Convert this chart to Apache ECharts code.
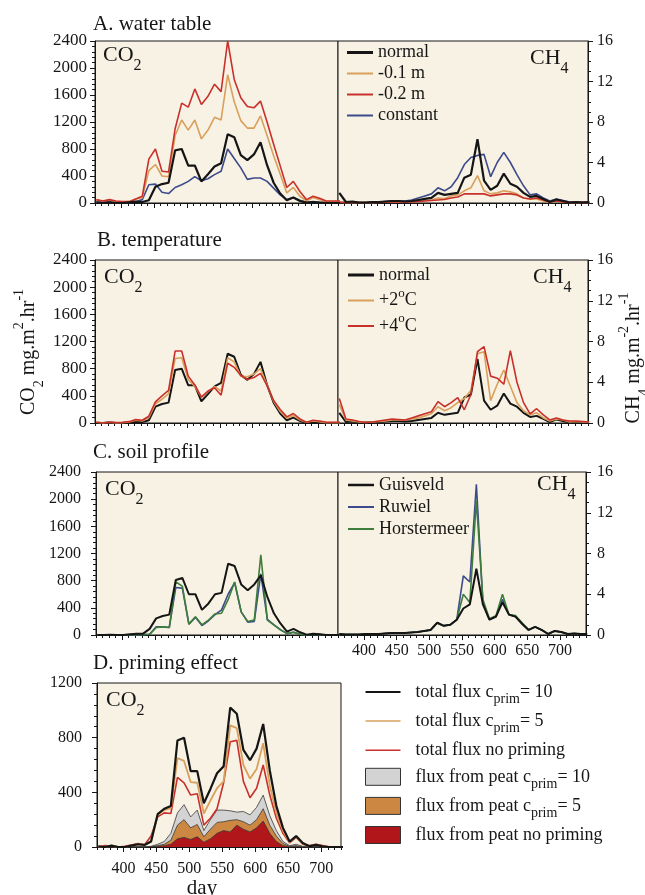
<!DOCTYPE html>
<html>
<head>
    <meta charset="utf-8">
    <script type="text/javascript" src="https://cdn.jsdelivr.net/npm/echarts@6/dist/echarts.min.js"></script>
    <title>CO2 and CH4 fluxes</title>
    <style>html, body { margin: 0; padding: 0; background: #fff; }</style>
</head>
<body>
    <div id="container" style="width:645px;height:895px;"></div>
    <script type="text/javascript">
    // sample days (every 10 days)
    var days = [362, 372, 382, 392, 402, 412, 422, 432, 442, 452, 462, 472, 482, 492, 502, 512, 522, 532, 542, 552,
                562, 572, 582, 592, 602, 612, 622, 632, 642, 652, 662, 672, 682, 692, 702, 712, 722, 732, 742];
    var tickDays = [400, 450, 500, 550, 600, 650, 700];

    // A. water table
    var co2Normal = [5, 0, 10, 0, 0, 10, 20, 15, 40, 240, 280, 300, 780, 800, 555, 555, 320, 425, 540, 590,
                     1020, 975, 710, 635, 720, 900, 560, 300, 140, 40, 80, 30, 5, 15, 5, 0, 0, 0, 0];
    var co2Minus01 = [40, 30, 40, 20, 15, 20, 60, 80, 480, 570, 400, 390, 1000, 1230, 1080, 1230, 950, 1080, 1270, 1230,
                      1900, 1500, 1220, 1110, 1110, 1290, 1000, 700, 430, 150, 230, 100, 30, 80, 50, 20, 20, 20, 20];
    var co2Minus02 = [50, 30, 50, 30, 20, 20, 60, 100, 650, 800, 470, 460, 1100, 1480, 1420, 1690, 1460, 1580, 1760, 1650,
                      2400, 1830, 1560, 1430, 1410, 1510, 1200, 870, 550, 230, 320, 170, 50, 100, 70, 30, 30, 30, 30];
    var co2Constant = [20, 10, 20, 10, 5, 5, 20, 50, 270, 280, 160, 140, 230, 270, 320, 390, 330, 360, 420, 470,
                       800, 660, 520, 350, 370, 370, 320, 220, 120, 50, 80, 40, 10, 20, 10, 10, 5, 5, 5];
    var ch4Normal = [1.0, 0.1, 0.15, 0.05, 0.05, 0.1, 0.1, 0.15, 0.2, 0.2, 0.15, 0.2, 0.3, 0.4, 0.5, 1.0, 0.8, 0.9, 1.0, 2.5,
                     2.8, 6.3, 2.2, 1.3, 1.7, 2.9, 1.9, 1.6, 1.0, 0.6, 0.7, 0.4, 0.1, 0.35, 0.2, 0.05, 0.1, 0.05, 0.1];
    var ch4Minus01 = [0.1, 0.05, 0.05, 0.05, 0.05, 0.05, 0.1, 0.1, 0.1, 0.1, 0.1, 0.15, 0.2, 0.25, 0.3, 0.5, 0.45, 0.7, 0.8, 1.2,
                      1.5, 2.7, 1.2, 0.9, 1.0, 1.2, 1.1, 0.9, 0.5, 0.4, 0.4, 0.2, 0.05, 0.2, 0.1, 0.05, 0.05, 0.05, 0.05];
    var ch4Minus02 = [0.05, 0.05, 0.05, 0.05, 0.05, 0.05, 0.05, 0.1, 0.1, 0.1, 0.1, 0.1, 0.15, 0.2, 0.25, 0.3, 0.35, 0.5, 0.6, 0.9,
                      0.9, 0.9, 0.9, 0.7, 0.8, 0.9, 0.9, 0.8, 0.5, 0.4, 0.5, 0.3, 0.1, 0.2, 0.1, 0.05, 0.05, 0.05, 0.05];
    var ch4Constant = [0.1, 0.05, 0.1, 0.05, 0.05, 0.1, 0.1, 0.15, 0.2, 0.2, 0.2, 0.3, 0.5, 0.7, 0.9, 1.5, 1.2, 1.6, 2.5, 3.8,
                       4.5, 4.7, 4.8, 2.6, 4.0, 5.0, 4.0, 2.8, 1.7, 0.8, 0.9, 0.5, 0.2, 0.4, 0.25, 0.1, 0.1, 0.1, 0.1];

    // B. temperature
    var co2Plus2 = [10, 0, 10, 0, 5, 15, 40, 30, 80, 280, 350, 430, 950, 960, 640, 540, 380, 460, 540, 470,
                    960, 900, 690, 680, 720, 800, 560, 320, 170, 70, 110, 45, 10, 30, 20, 5, 5, 5, 5];
    var co2Plus4 = [10, 0, 10, 5, 10, 20, 50, 40, 100, 310, 400, 480, 1060, 1060, 690, 560, 380, 470, 520, 410,
                    880, 820, 700, 640, 670, 730, 550, 330, 200, 90, 140, 60, 10, 40, 30, 10, 10, 10, 10];
    var ch4Plus2 = [1.8, 0.3, 0.2, 0.1, 0.05, 0.1, 0.15, 0.2, 0.3, 0.3, 0.3, 0.4, 0.5, 0.7, 0.9, 1.6, 1.2, 1.5, 2.0, 2.4,
                    3.2, 6.8, 7.0, 2.2, 3.8, 5.2, 3.6, 2.0, 1.2, 0.8, 1.0, 0.5, 0.2, 0.4, 0.3, 0.1, 0.15, 0.1, 0.1];
    var ch4Plus4 = [2.4, 0.4, 0.3, 0.15, 0.05, 0.1, 0.2, 0.3, 0.4, 0.35, 0.3, 0.5, 0.7, 0.9, 1.1, 2.1, 1.6, 2.0, 2.5, 1.3,
                    2.8, 7.0, 7.5, 4.6, 4.4, 3.8, 7.1, 4.0, 2.0, 0.9, 1.4, 0.8, 0.3, 0.5, 0.3, 0.2, 0.2, 0.15, 0.1];

    // C. soil profile
    var co2Guisveld = [0, 0, 5, 0, 0, 10, 20, 20, 90, 245, 280, 300, 810, 840, 600, 600, 370, 465, 600, 620,
                       1050, 1015, 745, 660, 745, 880, 560, 320, 170, 50, 90, 40, 5, 20, 10, 0, 0, 0, 0];
    var co2Ruwiel = [0, 0, 0, 0, 0, 0, 0, 5, 10, 120, 120, 110, 700, 690, 160, 260, 140, 210, 300, 370,
                     600, 770, 340, 190, 200, 900, 230, 150, 80, 20, 40, 10, 0, 10, 5, 0, 0, 0, 0];
    var co2Horstermeer = [0, 0, 0, 0, 0, 0, 0, 5, 10, 110, 120, 110, 780, 720, 160, 270, 150, 220, 310, 320,
                          520, 780, 340, 200, 220, 1180, 220, 150, 75, 20, 40, 10, 0, 10, 5, 0, 0, 0, 0];
    var ch4Guisveld = [0.1, 0.05, 0.05, 0.05, 0.1, 0.1, 0.1, 0.15, 0.2, 0.2, 0.2, 0.25, 0.3, 0.4, 0.5, 1.2, 0.9, 1.0, 1.5, 2.6,
                       3.0, 6.5, 3.0, 1.5, 1.8, 3.2, 2.0, 1.8, 1.1, 0.5, 0.8, 0.5, 0.1, 0.4, 0.3, 0.1, 0.15, 0.1, 0.1];
    var ch4Ruwiel = [0.1, 0.05, 0.05, 0.05, 0.1, 0.1, 0.1, 0.15, 0.2, 0.2, 0.2, 0.25, 0.3, 0.4, 0.5, 1.2, 0.9, 1.0, 1.5, 5.8,
                     5.2, 14.8, 3.2, 1.5, 1.8, 3.5, 2.0, 1.8, 1.1, 0.5, 0.8, 0.5, 0.1, 0.4, 0.3, 0.1, 0.15, 0.1, 0.1];
    var ch4Horstermeer = [0.1, 0.05, 0.05, 0.05, 0.1, 0.1, 0.1, 0.15, 0.2, 0.2, 0.2, 0.25, 0.3, 0.4, 0.5, 1.2, 0.9, 1.0, 1.5, 4.0,
                          3.2, 13.2, 3.5, 1.6, 1.9, 4.0, 2.0, 1.9, 1.2, 0.5, 0.8, 0.5, 0.1, 0.4, 0.3, 0.1, 0.15, 0.1, 0.1];

    // D. priming effect (total flux c=10 is the normal run)
    var totalPrim5 = [5, 0, 10, 0, 0, 10, 20, 15, 40, 235, 270, 285, 650, 630, 475, 470, 245, 340, 430, 480,
                      890, 870, 600, 500, 570, 760, 450, 250, 120, 35, 75, 25, 5, 15, 5, 0, 0, 0, 0];
    var totalNoPrim = [0, 10, 5, 0, 5, 15, 25, 15, 80, 220, 250, 245, 510, 470, 380, 390, 160, 210, 280, 470,
                       770, 780, 480, 360, 430, 600, 380, 210, 100, 30, 70, 20, 10, 20, 10, 0, 0, 0, 0];
    var peatPrim10 = [0, 0, 0, 0, 0, 0, 0, 0, 5, 20, 40, 100, 250, 310, 220, 270, 120, 200, 270, 270,
                      265, 255, 260, 235, 290, 380, 230, 120, 40, 10, 20, 5, 0, 0, 0, 0, 0, 0, 0];
    var peatPrim5 = [0, 0, 0, 0, 0, 0, 0, 0, 3, 10, 20, 50, 160, 200, 140, 165, 75, 130, 180, 185,
                     195, 200, 185, 160, 200, 280, 160, 80, 25, 5, 10, 0, 0, 0, 0, 0, 0, 0, 0];
    var peatNoPrim = [0, 0, 0, 0, 0, 0, 0, 0, 2, 5, 10, 20, 60, 70, 55, 75, 35, 60, 100, 120,
                      110, 160, 130, 110, 140, 190, 100, 40, 10, 2, 5, 0, 0, 0, 0, 0, 0, 0, 0];

    var FONT = 'Liberation Serif';
    var INK = '#161616';
    var PLOT_BG = '#f7f2e3';
    var C_BLACK = '#151515', C_TAN = '#d9a05c', C_RED = '#c9302c', C_BLUE = '#3d4a8c', C_GREEN = '#3e7d3c';
    var F_GREY = '#d3d3d3', F_ORANGE = '#cc8842', F_RED = '#b0161a';

    var myChart = echarts.init(document.getElementById('container'));

    // 0/1 = A co2/ch4, 2/3 = B, 4/5 = C, 6 = D
    var grids = [
        { left: 95, top: 41, width: 243, height: 162 },
        { left: 338, top: 41, width: 250, height: 162 },
        { left: 95, top: 260, width: 243, height: 163 },
        { left: 338, top: 260, width: 250, height: 163 },
        { left: 96, top: 472, width: 242, height: 163 },
        { left: 338, top: 472, width: 248, height: 163 },
        { left: 97, top: 683, width: 244, height: 164 }
    ];
    grids.forEach(function (g) {
        g.show = true;
        g.backgroundColor = PLOT_BG;
        g.borderColor = INK;
        g.borderWidth = 1;
        g.containLabel = false;
        g.outerBoundsMode = 'none';
    });

    function xAxes(g, max, showLabels, margin) {
        return [{
            gridIndex: g, type: 'value', min: 360, max: max, interval: 10,
            axisLine: { show: true, onZero: false, lineStyle: { color: INK, width: 1 } },
            axisTick: { show: true, inside: false, length: 3, lineStyle: { color: INK, width: 1 } },
            axisLabel: {
                show: showLabels, margin: margin, fontFamily: FONT, fontSize: 16, color: INK,
                formatter: function (v) { return tickDays.indexOf(v) >= 0 ? String(v) : ''; }
            },
            splitLine: { show: false }
        }, {
            gridIndex: g, type: 'value', min: 360, max: max, position: 'bottom',
            axisLine: { show: false },
            axisTick: { show: true, length: 5, customValues: tickDays, lineStyle: { color: INK, width: 1 } },
            axisLabel: { show: false },
            splitLine: { show: false }
        }];
    }

    function yAxis(g, max, interval, minorSplit, pos, fontSize, margin) {
        return {
            gridIndex: g, type: 'value', min: 0, max: max, interval: interval, position: pos,
            axisLine: { show: true, lineStyle: { color: INK, width: 1 } },
            axisTick: { show: true, inside: false, length: 5, lineStyle: { color: INK, width: 1 } },
            minorTick: { show: true, splitNumber: minorSplit, length: 3, lineStyle: { color: INK, width: 1 } },
            axisLabel: {
                show: true, margin: margin, fontFamily: FONT, fontSize: fontSize, color: INK,
                formatter: function (v) { return String(v); }
            },
            splitLine: { show: false },
            minorSplitLine: { show: false }
        };
    }

    var xAxis = [].concat(
        xAxes(0, 730, false, 8), xAxes(1, 740, false, 8),
        xAxes(2, 730, false, 8), xAxes(3, 740, false, 8),
        xAxes(4, 730, false, 8), xAxes(5, 740, true, 8),
        xAxes(6, 730, true, 14)
    );
    // day label under panel D
    xAxis[12].name = 'day';
    xAxis[12].nameLocation = 'middle';
    xAxis[12].nameGap = 28;
    xAxis[12].nameTextStyle = { fontFamily: FONT, fontSize: 21, color: INK, padding: [0, 34, 0, 0] };

    var nameRich = {
        m: { fontFamily: FONT, fontSize: 20, lineHeight: 30, color: INK },
        s: { fontFamily: FONT, fontSize: 14, lineHeight: 8, height: 10, verticalAlign: 'bottom', color: INK },
        p: { fontFamily: FONT, fontSize: 14, lineHeight: 8, height: 10, verticalAlign: 'top', color: INK }
    };

    var yAxes = [
        yAxis(0, 2400, 400, 5, 'left', 17, 8),
        yAxis(1, 16, 4, 4, 'right', 16, 9),
        yAxis(2, 2400, 400, 5, 'left', 17, 8),
        yAxis(3, 16, 4, 4, 'right', 16, 9),
        yAxis(4, 2400, 400, 5, 'left', 16, 15),
        yAxis(5, 16, 4, 4, 'right', 16, 11),
        yAxis(6, 1200, 400, 5, 'left', 16, 15)
    ];
    yAxes[2].name = '{m|CO}{s|2}{m| mg.m}{p|2}{m|.hr}{p|-1}';
    yAxes[2].nameLocation = 'middle';
    yAxes[2].nameRotate = 90;
    yAxes[2].nameGap = 51;
    yAxes[2].nameTextStyle = { fontFamily: FONT, fontSize: 20, color: INK, rich: nameRich, padding: [0, 21, 0, 0] };
    yAxes[3].name = '{m|CH}{s|4}{m| mg.m}{p|-2}{m|.hr}{p|-1}';
    yAxes[3].nameLocation = 'middle';
    yAxes[3].nameRotate = 90;
    yAxes[3].nameGap = 26;
    yAxes[3].nameTextStyle = { fontFamily: FONT, fontSize: 20, color: INK, rich: nameRich, padding: [0, 33, 0, 0] };

    function pts(vals) {
        return days.map(function (d, i) { return [d, vals[i]]; });
    }

    function line(name, vals, color, width, g, z) {
        return {
            name: name, type: 'line', xAxisIndex: 2 * g, yAxisIndex: g, data: pts(vals),
            symbol: 'none', showSymbol: false, clip: true, z: z,
            lineStyle: { color: color, width: width },
            itemStyle: { color: color },
            emphasis: { disabled: true }
        };
    }

    function area(name, vals, fill, g, z) {
        var s = line(name, vals, '#3a3a3a', 0.8, g, z);
        s.areaStyle = { color: fill, opacity: 1 };
        s.itemStyle = { color: fill };
        return s;
    }

    var series = [
        // A
        line('constant', co2Constant, C_BLUE, 1.6, 0, 2),
        line('-0.1 m', co2Minus01, C_TAN, 1.6, 0, 3),
        line('-0.2 m', co2Minus02, C_RED, 1.6, 0, 4),
        line('normal', co2Normal, C_BLACK, 2.2, 0, 5),
        line('constant', ch4Constant, C_BLUE, 1.6, 1, 2),
        line('-0.1 m', ch4Minus01, C_TAN, 1.6, 1, 3),
        line('-0.2 m', ch4Minus02, C_RED, 1.6, 1, 4),
        line('normal', ch4Normal, C_BLACK, 2.2, 1, 5),
        // B
        line('normal', co2Normal, C_BLACK, 2, 2, 3),
        line('+2°C', co2Plus2, C_TAN, 1.6, 2, 4),
        line('+4°C', co2Plus4, C_RED, 1.6, 2, 5),
        line('normal', ch4Normal, C_BLACK, 2, 3, 3),
        line('+2°C', ch4Plus2, C_TAN, 1.6, 3, 4),
        line('+4°C', ch4Plus4, C_RED, 1.6, 3, 5),
        // C
        line('Guisveld', co2Guisveld, C_BLACK, 2, 4, 5),
        line('Ruwiel', co2Ruwiel, C_BLUE, 1.6, 4, 3),
        line('Horstermeer', co2Horstermeer, C_GREEN, 1.6, 4, 4),
        line('Guisveld', ch4Guisveld, C_BLACK, 2, 5, 5),
        line('Ruwiel', ch4Ruwiel, C_BLUE, 1.6, 5, 3),
        line('Horstermeer', ch4Horstermeer, C_GREEN, 1.6, 5, 4),
        // D
        area('flux from peat cprim= 10', peatPrim10, F_GREY, 6, 2),
        area('flux from peat cprim= 5', peatPrim5, F_ORANGE, 6, 3),
        area('flux from peat no priming', peatNoPrim, F_RED, 6, 4),
        line('total flux no priming', totalNoPrim, C_RED, 1.6, 6, 5),
        line('total flux cprim= 5', totalPrim5, C_TAN, 1.8, 6, 6),
        line('total flux cprim= 10', co2Normal, C_BLACK, 2.2, 6, 7)
    ];

    var richText = {
        '+2°C': '+2{o|o}C',
        '+4°C': '+4{o|o}C',
        'total flux cprim= 10': '{pad|}total flux c{s|prim}= 10',
        'total flux cprim= 5': '{pad|}total flux c{s|prim}= 5',
        'total flux no priming': '{pad|}total flux no priming',
        'flux from peat cprim= 10': '{pad|}flux from peat c{s|prim}= 10',
        'flux from peat cprim= 5': '{pad|}flux from peat c{s|prim}= 5',
        'flux from peat no priming': '{pad|}flux from peat no priming'
    };
    var legendRich = {
        s: { fontFamily: FONT, fontSize: 14, lineHeight: 6, height: 9, verticalAlign: 'bottom', color: INK },
        o: { fontFamily: FONT, fontSize: 13, lineHeight: 8, height: 10, verticalAlign: 'top', color: INK },
        pad: { width: 10 }
    };

    function lineIcon(name, color, thick) {
        return {
            name: name, icon: 'path://M0,0L26,0L26,' + thick + 'L0,' + thick + 'Z',
            itemStyle: { color: color, borderWidth: 0 }
        };
    }

    function legendBox(left, top, gap, lineHeight, itemWidth, itemHeight, data) {
        return {
            left: left, top: top, orient: 'vertical', padding: 0, itemGap: gap,
            itemWidth: itemWidth, itemHeight: itemHeight, selectedMode: false,
            textStyle: { fontFamily: FONT, fontSize: 18, color: INK, lineHeight: lineHeight, rich: legendRich },
            formatter: function (name) { return richText[name] || name; },
            data: data
        };
    }

    var legend = [
        legendBox(347, 43.5, 3, 17, 26, 14, [
            lineIcon('normal', C_BLACK, 3), lineIcon('-0.1 m', C_TAN, 2),
            lineIcon('-0.2 m', C_RED, 2), lineIcon('constant', C_BLUE, 2)
        ]),
        legendBox(348, 263, 0, 24, 26, 14, [
            lineIcon('normal', C_BLACK, 3), lineIcon('+2°C', C_TAN, 2), lineIcon('+4°C', C_RED, 2)
        ]),
        legendBox(348, 476, 4, 18, 26, 14, [
            lineIcon('Guisveld', C_BLACK, 2.5), lineIcon('Ruwiel', C_BLUE, 2), lineIcon('Horstermeer', C_GREEN, 2)
        ]),
        legendBox(365, 680, 2.6, 24, 35, 17, [
            { name: 'total flux cprim= 10', icon: 'path://M0,0L35,0L35,2.2L0,2.2Z', itemStyle: { color: C_BLACK, borderWidth: 0 } },
            { name: 'total flux cprim= 5', icon: 'path://M0,0L35,0L35,1.5L0,1.5Z', itemStyle: { color: C_TAN, borderWidth: 0 } },
            { name: 'total flux no priming', icon: 'path://M0,0L35,0L35,1.5L0,1.5Z', itemStyle: { color: C_RED, borderWidth: 0 } },
            { name: 'flux from peat cprim= 10', icon: 'rect', itemStyle: { color: F_GREY, borderColor: '#333', borderWidth: 1 } },
            { name: 'flux from peat cprim= 5', icon: 'rect', itemStyle: { color: F_ORANGE, borderColor: '#333', borderWidth: 1 } },
            { name: 'flux from peat no priming', icon: 'rect', itemStyle: { color: F_RED, borderColor: '#333', borderWidth: 1 } }
        ])
    ];

    function titleAt(text, left, top) {
        return {
            text: text, left: left, top: top, padding: 0,
            textStyle: { fontFamily: FONT, fontSize: 21, fontWeight: 'normal', color: INK }
        };
    }

    // CO2 / CH4 tags inside the plots
    function chemTag(x, y, main, sub) {
        return {
            type: 'text', x: x, y: y, z: 100,
            style: {
                text: '{m|' + main + '}{s|' + sub + '}',
                align: 'left', verticalAlign: 'middle',
                rich: {
                    m: { fontFamily: FONT, fontSize: 22, lineHeight: 30, fill: INK },
                    s: { fontFamily: FONT, fontSize: 16, lineHeight: 12, height: 9, verticalAlign: 'bottom', fill: INK }
                }
            }
        };
    }

    var option = {
        animation: false,
        backgroundColor: '#ffffff',
        textStyle: { fontFamily: FONT },
        title: [
            titleAt('A. water table', 93, 14),
            titleAt('B. temperature', 97, 230),
            titleAt('C. soil profile', 93, 442),
            titleAt('D. priming effect', 93, 653)
        ],
        grid: grids,
        xAxis: xAxis,
        yAxis: yAxes,
        legend: legend,
        series: series,
        graphic: [
            chemTag(103, 55.5, 'CO', '2'),
            chemTag(530, 58.5, 'CH', '4'),
            chemTag(104, 277.5, 'CO', '2'),
            chemTag(533, 277.5, 'CH', '4'),
            chemTag(105, 489.5, 'CO', '2'),
            chemTag(537, 484.5, 'CH', '4'),
            chemTag(106, 700, 'CO', '2')
        ]
    };

    myChart.setOption(option);
    </script>
</body>
</html>
